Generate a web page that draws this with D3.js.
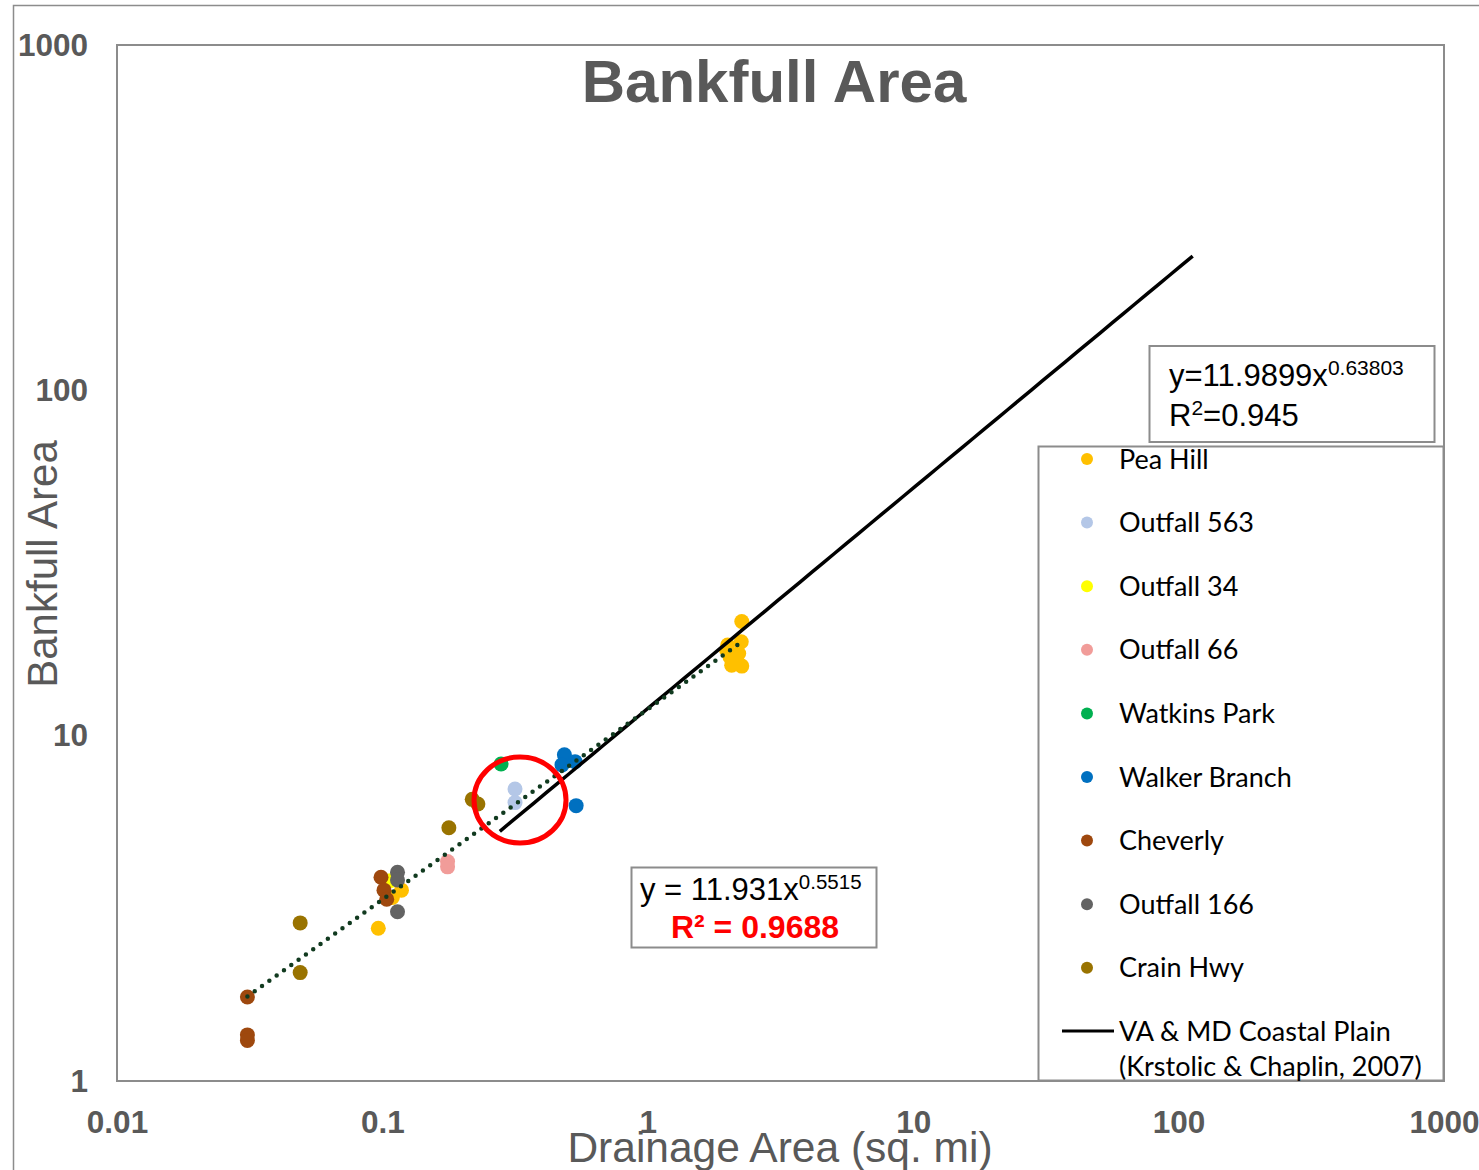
<!DOCTYPE html>
<html>
<head>
<meta charset="utf-8">
<script src="https://cdn.jsdelivr.net/npm/d3@7"></script>
<style>
  html, body { margin: 0; padding: 0; background: #fff; }
  svg { display: block; }
</style>
</head>
<body>
<svg id="chart" width="1479" height="1170"></svg>
<script>
// Series: drainage area (sq. mi) and bankfull area (sq. ft)
const seriesNames = ["Pea Hill", "Outfall 563", "Outfall 34", "Outfall 66", "Watkins Park",
                     "Walker Branch", "Cheverly", "Outfall 166", "Crain Hwy"];
const seriesColors = ["#FFC000", "#B4C7E7", "#FFFF00", "#F19C99", "#00B050",
                      "#0070C0", "#9E480E", "#636363", "#997300"];

const peaHillX = [0.0965, 0.109, 0.118, 2.26, 2.25, 2.0, 2.2, 2.04, 2.07, 2.26, 1.98];
const peaHillY = [2.77, 3.40, 3.57, 21.4, 18.7, 18.3, 17.3, 16.9, 16.0, 15.9, 17.7];
const outfall563X = [0.316, 0.316];
const outfall563Y = [7.01, 6.40];
const outfall34X = [0.107];
const outfall34Y = [3.80];
const outfall66X = [0.176, 0.176];
const outfall66Y = [4.32, 4.17];
const watkinsX = [0.28];
const watkinsY = [8.28];
const walkerX = [0.485, 0.475, 0.532, 0.537];
const walkerY = [8.80, 8.23, 8.41, 6.27];
const cheverlyX = [0.031, 0.031, 0.031, 0.0988, 0.1014, 0.1038];
const cheverlyY = [1.75, 1.36, 1.31, 3.89, 3.57, 3.36];
const outfall166X = [0.114, 0.114, 0.114];
const outfall166Y = [4.02, 3.82, 3.09];
const crainX = [0.049, 0.049, 0.178, 0.218, 0.229];
const crainY = [2.87, 2.06, 5.41, 6.54, 6.34];

const seriesX = [peaHillX, outfall563X, outfall34X, outfall66X, watkinsX, walkerX, cheverlyX, outfall166X, crainX];
const seriesY = [peaHillY, outfall563Y, outfall34Y, outfall66Y, watkinsY, walkerY, cheverlyY, outfall166Y, crainY];

// Power-law fits
const fitCoef = 11.931, fitExp = 0.5515, fitR2 = "0.9688";
const fitRange = [0.031, 2.26];
const regCoef = 11.9899, regExp = 0.63803, regR2 = "0.945";
const regRange = [0.277, 113];
const regLabel = ["VA & MD Coastal Plain", "(Krstolic & Chaplin, 2007)"];

// Highlighted location
const highlight = { x: 0.33, y: 6.51 };

const xTicks = [0.01, 0.1, 1, 10, 100, 1000];
const xTickLabels = ["0.01", "0.1", "1", "10", "100", "1000"];
const yTicks = [1, 10, 100, 1000];
const yTickLabels = ["1", "10", "100", "1000"];

const svg = d3.select("#chart");
const grey = "#595959";
const frame = "#8c8c8c";

const x = d3.scaleLog().domain([0.01, 1000]).range([117, 1444]);
const y = d3.scaleLog().domain([1, 1000]).range([1081, 45]);

// outer chart border
svg.append("rect").attr("x", 13.5).attr("y", 5.5).attr("width", 1480).attr("height", 1180)
  .attr("fill", "none").attr("stroke", frame).attr("stroke-width", 1.5);

// plot area frame
svg.append("rect").attr("x", 117).attr("y", 45).attr("width", 1444 - 117).attr("height", 1081 - 45)
  .attr("fill", "none").attr("stroke", frame).attr("stroke-width", 2);

// axes
const xAxis = d3.axisBottom(x).tickValues(xTicks).tickSize(0).tickPadding(30)
  .tickFormat((d, i) => xTickLabels[i]);
const gx = svg.append("g").attr("transform", "translate(0,1081)").call(xAxis);
gx.select(".domain").remove();
gx.selectAll("text").attr("font-family", "'Liberation Sans', Arial, sans-serif")
  .attr("font-size", 31.5).attr("font-weight", "bold").attr("fill", grey);

const yAxis = d3.axisLeft(y).tickValues(yTicks).tickSize(0).tickPadding(29)
  .tickFormat((d, i) => yTickLabels[i]);
const gy = svg.append("g").attr("transform", "translate(117,0)").call(yAxis);
gy.select(".domain").remove();
gy.selectAll("text").attr("font-family", "'Liberation Sans', Arial, sans-serif")
  .attr("font-size", 31.5).attr("font-weight", "bold").attr("fill", grey);

// titles
svg.append("text").attr("x", 774).attr("y", 102).attr("text-anchor", "middle")
  .attr("font-family", "'Liberation Sans', Arial, sans-serif").attr("font-size", 60)
  .attr("font-weight", "bold").attr("fill", grey).text("Bankfull Area");

svg.append("text").attr("transform", "translate(57,564) rotate(-90)").attr("text-anchor", "middle")
  .attr("font-family", "'Liberation Sans', Arial, sans-serif").attr("font-size", 42)
  .attr("fill", grey).text("Bankfull Area");

svg.append("text").attr("x", 780).attr("y", 1162).attr("text-anchor", "middle")
  .attr("font-family", "'Liberation Sans', Arial, sans-serif").attr("font-size", 42.5)
  .attr("fill", grey).text("Drainage Area (sq. mi)");

// data points
const pts = svg.append("g");
seriesNames.forEach((name, i) => {
  const data = seriesX[i].map((v, j) => ({ x: v, y: seriesY[i][j] }));
  pts.selectAll(null).data(data).enter().append("circle")
    .attr("cx", d => x(d.x)).attr("cy", d => y(d.y)).attr("r", 7.5)
    .attr("fill", seriesColors[i]);
});

// regional curve
const sample = (coef, ex, range) => {
  const n = 60, a = Math.log10(range[0]), b = Math.log10(range[1]);
  return d3.range(n + 1).map(k => {
    const xv = Math.pow(10, a + (b - a) * k / n);
    return [xv, coef * Math.pow(xv, ex)];
  });
};
const line = d3.line().x(d => x(d[0])).y(d => y(d[1]));

svg.append("path").attr("d", line(sample(regCoef, regExp, regRange)))
  .attr("fill", "none").attr("stroke", "#000").attr("stroke-width", 3.5);

// trend line through the site data
svg.append("path").attr("d", line(sample(fitCoef, fitExp, fitRange)))
  .attr("fill", "none").attr("stroke", "#113a1f").attr("stroke-width", 4.5)
  .attr("stroke-linecap", "round").attr("stroke-dasharray", "0 9");

// highlight ring
svg.append("ellipse").attr("cx", x(highlight.x)).attr("cy", y(highlight.y))
  .attr("rx", 46).attr("ry", 43).attr("fill", "none").attr("stroke", "#ff0000").attr("stroke-width", 5);

// regional equation box
const eq1 = svg.append("g");
eq1.append("rect").attr("x", 1149.5).attr("y", 346).attr("width", 285).attr("height", 96)
  .attr("fill", "#fff").attr("stroke", frame).attr("stroke-width", 2);
const t1 = eq1.append("text").attr("x", 1169).attr("y", 386)
  .attr("font-family", "'Liberation Sans', Arial, sans-serif").attr("font-size", 31).attr("fill", "#000");
t1.append("tspan").text("y=" + regCoef + "x");
t1.append("tspan").attr("font-size", 21).attr("dy", -11).text(regExp);
const t1b = eq1.append("text").attr("x", 1169).attr("y", 426)
  .attr("font-family", "'Liberation Sans', Arial, sans-serif").attr("font-size", 31).attr("fill", "#000");
t1b.append("tspan").text("R");
t1b.append("tspan").attr("font-size", 21).attr("dy", -11).text("2");
t1b.append("tspan").attr("dy", 11).text("=" + regR2);

// fit equation box
const eq2 = svg.append("g");
eq2.append("rect").attr("x", 631.5).attr("y", 867.5).attr("width", 245).attr("height", 80)
  .attr("fill", "#fff").attr("stroke", frame).attr("stroke-width", 2);
const t2 = eq2.append("text").attr("x", 640).attr("y", 900)
  .attr("font-family", "'Liberation Sans', Arial, sans-serif").attr("font-size", 31).attr("fill", "#000");
t2.append("tspan").text("y = " + fitCoef + "x");
t2.append("tspan").attr("font-size", 20.5).attr("dy", -11).text(fitExp);
eq2.append("text").attr("x", 755).attr("y", 938).attr("text-anchor", "middle")
  .attr("font-family", "'Liberation Sans', Arial, sans-serif").attr("font-size", 32)
  .attr("font-weight", "bold").attr("fill", "#ff0000").text("R² = " + fitR2);

// legend
const lg = svg.append("g");
lg.append("rect").attr("x", 1038.5).attr("y", 446.5).attr("width", 405).attr("height", 634)
  .attr("fill", "#fff").attr("stroke", frame).attr("stroke-width", 2);
const legendFont = "Lato, 'Open Sans', sans-serif";
seriesNames.forEach((name, i) => {
  const cy = 459 + i * 63.6;
  lg.append("circle").attr("cx", 1087).attr("cy", cy).attr("r", 6).attr("fill", seriesColors[i]);
  lg.append("text").attr("x", 1119).attr("y", cy + 9.5).attr("font-family", legendFont)
    .attr("font-size", 27).attr("fill", "#000").text(name);
});
lg.append("line").attr("x1", 1062).attr("x2", 1114).attr("y1", 1031).attr("y2", 1031)
  .attr("stroke", "#000").attr("stroke-width", 3);
lg.append("text").attr("x", 1119).attr("y", 1040.5).attr("font-family", legendFont)
  .attr("font-size", 27).attr("fill", "#000").text(regLabel[0]);
lg.append("text").attr("x", 1119).attr("y", 1076).attr("font-family", legendFont)
  .attr("font-size", 27).attr("fill", "#000").text(regLabel[1]);
</script>
</body>
</html>
